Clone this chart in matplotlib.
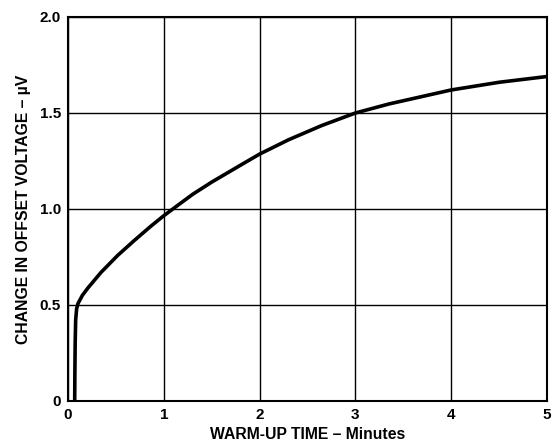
import matplotlib
matplotlib.use("Agg")
import matplotlib.pyplot as plt

# warm-up drift curve
minutes = [0.07, 0.072, 0.075, 0.08, 0.09, 0.104, 0.15, 0.207, 0.345, 0.518, 0.69, 0.864,
           1.0, 1.14, 1.3, 1.5, 1.79, 2.0, 2.3, 2.65, 3.0, 3.35, 3.6, 4.0, 4.5, 5.0]
drift_uv = [0.0, 0.15, 0.3, 0.42, 0.48, 0.507, 0.55, 0.588, 0.67, 0.758, 0.835, 0.91,
            0.965, 1.017, 1.076, 1.14, 1.225, 1.286, 1.36, 1.435, 1.5, 1.547, 1.575, 1.62, 1.66, 1.69]

x_ticks = [0, 1, 2, 3, 4, 5]
y_ticks = [0, 0.5, 1.0, 1.5, 2.0]
y_tick_labels = ["0", "0.5", "1.0", "1.5", "2.0"]

plt.rcParams['font.family'] = ['Liberation Sans', 'DejaVu Sans']
plt.rcParams['font.weight'] = 'bold'

fig = plt.figure(figsize=(5.55, 4.45), dpi=100)
ax = fig.add_axes([0.1225, 0.0989, 0.8631, 0.8629])

ax.plot(minutes, drift_uv, color='black', linewidth=2.6,
        solid_capstyle='butt', solid_joinstyle='round')

ax.set_xlim(0, 5)
ax.set_ylim(0, 2.0)
ax.set_xticks(x_ticks)
ax.set_yticks(y_ticks)
ax.set_yticklabels(y_tick_labels)
ax.tick_params(length=0, labelsize=11, pad=5)
for lab in ax.get_xticklabels() + ax.get_yticklabels():
    lab.set_fontweight('bold')
ax.grid(True, color='black', linewidth=1.0)
for s in ax.spines.values():
    s.set_linewidth(1.5)

ax.set_xlabel("WARM-UP TIME – Minutes", fontsize=11.3, fontweight='bold', labelpad=4)
ax.set_ylabel("CHANGE IN OFFSET VOLTAGE – µV", fontsize=11.3, fontweight='bold', labelpad=6)

fig.savefig("out.png", dpi=100)
